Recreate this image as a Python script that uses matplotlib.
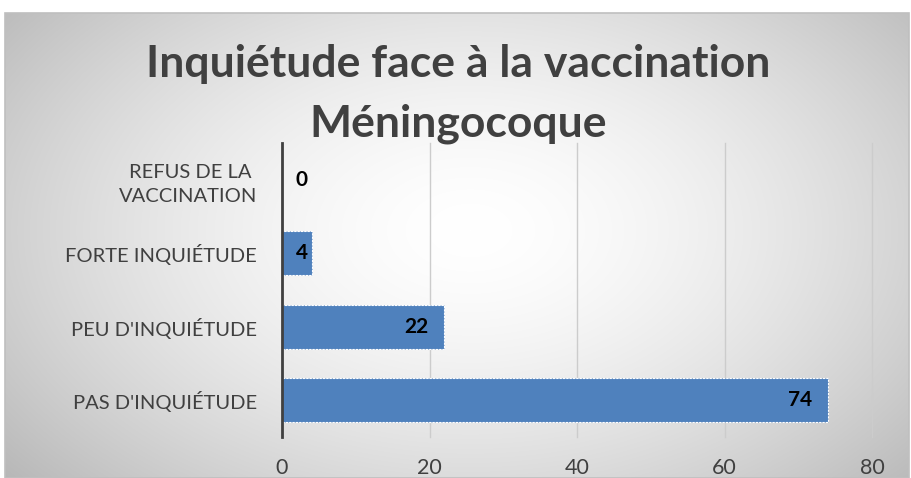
import numpy as np
import matplotlib
matplotlib.use("Agg")
import matplotlib.pyplot as plt
from matplotlib.patches import Rectangle

categories = ["PAS D'INQUIÉTUDE", "PEU D'INQUIÉTUDE", "FORTE INQUIÉTUDE", "REFUS DE LA \nVACCINATION"]
values = [74, 22, 4, 0]
xticks = [0, 20, 40, 60, 80]
title_lines = ["Inquiétude face à la vaccination", "Méningocoque"]

W, H = 912, 478
fig = plt.figure(figsize=(W/100, H/100), dpi=100)
fig.patch.set_facecolor("white")

# background gradient within chart frame
bg = fig.add_axes([0, 0, 1, 1], zorder=0)
bg.set_xlim(0, W); bg.set_ylim(H, 0); bg.axis("off")
fx0, fy0, fx1, fy1 = 5, 13, 909, 478
yy, xx = np.mgrid[fy0:fy1, fx0:fx1]
cx, cy = 470, 230
r = np.sqrt(((xx - cx) / 520.0) ** 2 + ((yy - cy) / 330.0) ** 2)
g = 1.0 - 0.22 * np.clip(r, 0, 1.2) ** 1.6
img = np.dstack([g, g, g])
bg.imshow(img, extent=[fx0, fx1, fy1, fy0], aspect="auto", interpolation="bilinear")
bg.add_patch(Rectangle((fx0, fy0), fx1 - fx0, fy1 - fy0, fill=False, edgecolor="#bfbfbf", linewidth=1.2))

font = "Lato"
ax = fig.add_axes([282/W, (H-437)/H, 590/W, (437-143)/H], zorder=1)
ax.patch.set_alpha(0)
y = np.arange(len(categories))
ax.barh(y, values, height=0.6, color="#4F81BD", edgecolor="white", linewidth=0.8,
        linestyle=(0, (2, 1)), zorder=3)
ax.set_xlim(0, 80)
ax.set_ylim(-0.5, len(categories) - 0.5)
ax.set_xticks(xticks)
ax.set_xticklabels([str(t) for t in xticks], fontsize=15.5, color="#404040", family=font)
ax.set_yticks(y)
ax.set_yticklabels(categories, fontsize=14.5, color="#404040", family=font, linespacing=1.5)
ax.tick_params(axis="x", length=0, pad=15)
ax.tick_params(axis="y", length=0, pad=18)
ax.grid(axis="x", color="#cccccc", linewidth=1, zorder=0)
for gl in ax.get_xgridlines():
    gl.set_clip_on(False)
for s in ["top", "right", "bottom"]:
    ax.spines[s].set_visible(False)
ax.spines["left"].set_color("#404040")
ax.spines["left"].set_linewidth(2)
ax.spines["left"].set_zorder(4)

for yi, v in zip(y, values):
    if v < 8:
        ax.annotate(str(v), (0, yi), xytext=(14, 0), textcoords="offset pixels",
                    ha="left", va="center", fontsize=15, fontweight="bold", family=font, zorder=5)
    else:
        ax.annotate(str(v), (v, yi), xytext=(-16, 0), textcoords="offset pixels",
                    ha="right", va="center", fontsize=15, fontweight="bold", family=font, zorder=5)

for line, yc in zip(title_lines, [64, 124]):
    fig.text(458/W, 1 - yc/H, line, ha="center", va="center", fontsize=32, fontweight="bold",
             color="#404040", family=font, zorder=6)

fig.savefig("out.png", dpi=100)
